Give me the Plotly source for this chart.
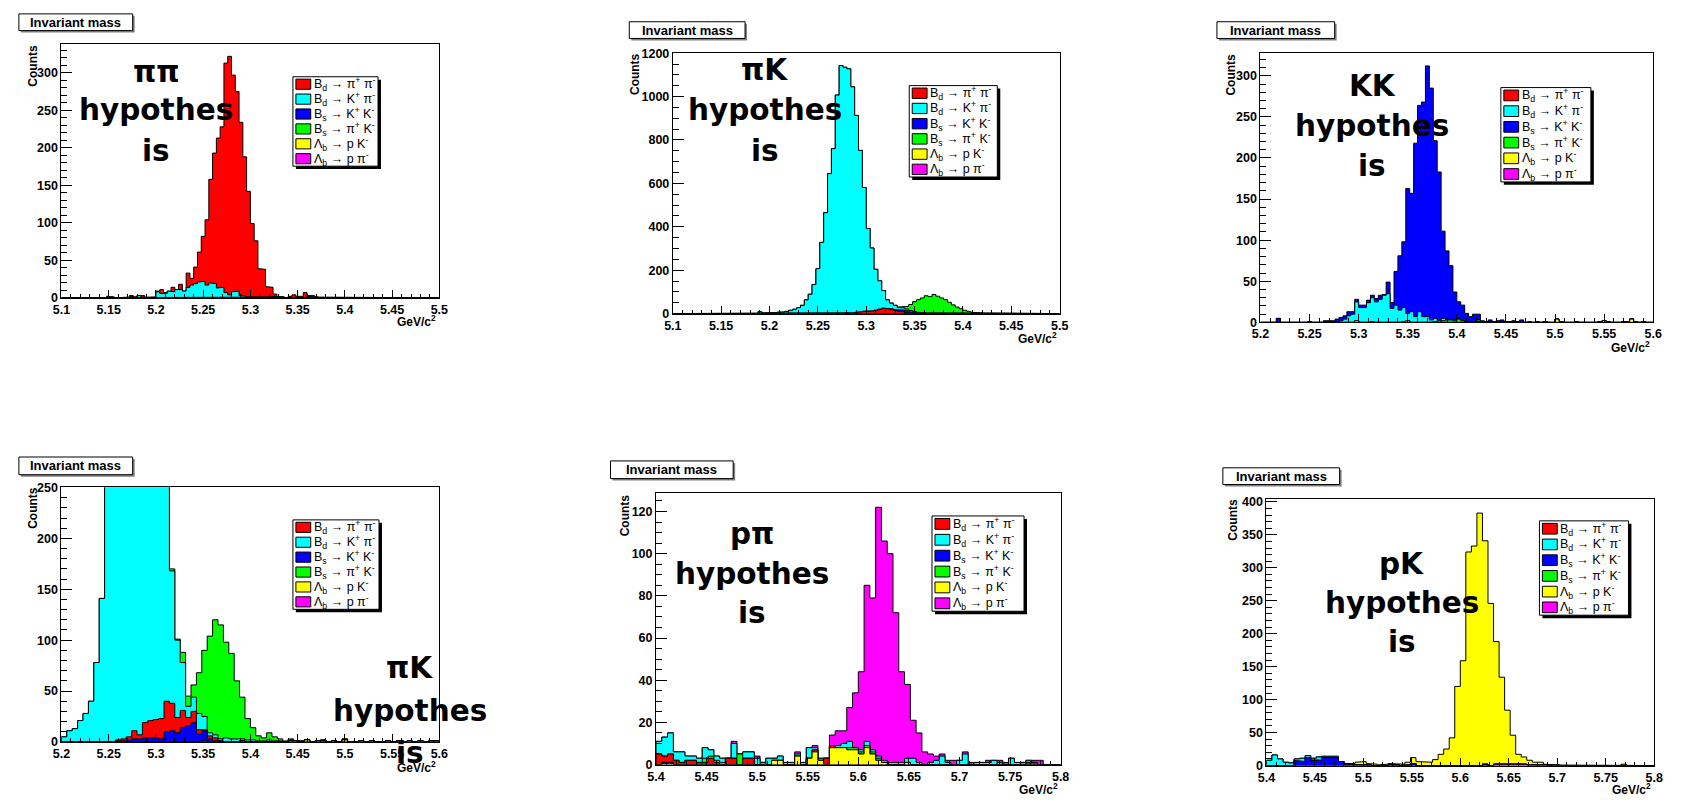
import numpy as np
import plotly.graph_objects as go

W, H = 1682, 802

# ---------------- data ----------------
SERIES_KEYS = ["bd_pipi", "bd_kpi", "bs_kk", "bs_pik", "lb_pk", "lb_ppi"]
SERIES_LABELS = [
    "B<sub>d</sub> → π<sup>+</sup> π<sup>-</sup>",
    "B<sub>d</sub> → K<sup>+</sup> π<sup>-</sup>",
    "B<sub>s</sub> → K<sup>+</sup> K<sup>-</sup>",
    "B<sub>s</sub> → π<sup>+</sup> K<sup>-</sup>",
    "Λ<sub>b</sub> → p K<sup>-</sup>",
    "Λ<sub>b</sub> → p π<sup>-</sup>",
]
HYPOTHESES = ["ππ", "πK", "KK", "πK", "pπ", "pK"]
TITLE = "Invariant mass"
Y_TITLE = "Counts"
X_TITLE = "GeV/c<sup>2</sup>"

# Panel 1 : pi pi hypothesis (100 bins, 5.1-5.5)
P1_RANGE = (5.1, 5.5)
P1_NBINS = 100
P1_YMAX = 338
P1_BD_PIPI_START = 17
P1_BD_PIPI = [1, 1, 0, 0, 2, 0, 0, 0, 1, 5, 1, 0, 6, 0, 7, 0, 19, 9, 22, 40,
              60, 87, 138, 174, 200, 214, 306, 318, 289, 266, 231, 186, 141, 98, 76, 39, 38, 14, 12, 3,
              1, 0, 0, 1, 4, 0, 1, 7, 1, 2]
P1_BD_KPI_START = 12
P1_BD_KPI = [2, 1, 0, 0, 0, 0, 2, 1, 3, 1, 0, 0, 1, 8, 6, 6, 9, 8, 10, 11,
             9, 14, 17, 19, 21, 22, 17, 20, 19, 13, 14, 7, 4, 7, 9, 3, 2, 1, 1]
P1_BS_KK_BINS = [30, 45]
P1_BS_KK = [1, 1]
P1_BS_PIK_START = 54
P1_BS_PIK = [1, 2, 2, 1, 1, 0, 1, 0, 2, 1, 0, 2, 1, 1]
P1_ORDER = ["lb_pk", "lb_ppi", "bs_kk", "bs_pik", "bd_kpi", "bd_pipi"]

# Panel 2 : pi K hypothesis (100 bins, 5.1-5.5)
P2_RANGE = (5.1, 5.5)
P2_NBINS = 100
P2_YMAX = 1200
P2_BD_KPI_START = 22
P2_BD_KPI = [8, 2, 4, 3, 4, 6, 7, 10, 15, 20, 27, 38, 63, 89, 134, 207, 328, 465, 645, 760,
             1007, 1143, 1133, 1128, 1042, 908, 744, 571, 380, 290, 189, 131, 81, 40, 26, 19, 12, 10, 8, 6,
             4, 3, 2, 1]
P2_BD_PIPI_START = 44
P2_BD_PIPI = [2, 0, 3, 5, 8, 10, 12, 12, 15, 20, 25, 22, 20, 15, 10, 8, 5, 2, 1]
P2_BS_KK_START = 55
P2_BS_KK = [1, 2, 4, 6, 8, 8, 6, 5, 3, 2, 1]
P2_BS_PIK_START = 58
P2_BS_PIK = [2, 6, 12, 28, 45, 58, 68, 80, 78, 88, 80, 72, 64, 52, 40, 30, 22, 15, 10, 6,
             4, 3, 2, 0, 1]
P2_ORDER = ["lb_ppi", "lb_pk", "bd_pipi", "bs_kk", "bd_kpi", "bs_pik"]

# Panel 3 : K K hypothesis (100 bins, 5.2-5.6)
P3_RANGE = (5.2, 5.6)
P3_NBINS = 100
P3_YMAX = 327.5
P3_BD_KPI_START = 19
P3_BD_KPI = [1, 2, 4, 8, 10, 23, 18, 18, 24, 29, 25, 28, 33, 35, 17, 21, 15, 17, 9, 13,
             7, 13, 7, 7, 3, 4, 2, 3, 1, 0, 1]
P3_BS_KK_START = 4
P3_BS_KK = [5, 0, 0, 0, 0, 0, 0, 0, 1, 0, 0, 0,
            2, 2, 2, 3, 4, 4, 5, 3, 3, 3, 3, 3, 3, 4, 5, 1, 14, 7, 41, 66,
            80, 152, 144, 211, 251, 261, 305, 282, 216, 181, 106, 83, 66, 34, 21, 19, 11, 7, 10, 7,
            2, 1, 2, 1, 1, 3, 1, 1, 2, 1, 3, 0, 1, 0, 1]
P3_LB_PK_BINS = [24, 28, 36, 37, 55, 75, 76, 87, 94, 95]
P3_LB_PK = [2, 1, 1, 2, 1, 4, 1, 2, 4, 1]
P3_BS_PIK_BINS = [44, 46, 47, 48, 49, 50, 51, 55, 58, 60]
P3_BS_PIK = [1, 2, 3, 3, 2, 4, 2, 2, 1, 1]
P3_LB_PPI_BINS = [72, 80, 86, 92, 97]
P3_LB_PPI = [1, 1, 1, 1, 1]
P3_BD_PIPI_BINS = [88, 93]
P3_BD_PIPI = [1, 1]
P3_ORDER = ["lb_ppi", "lb_pk", "bd_pipi", "bs_pik", "bd_kpi", "bs_kk"]

# Panel 4 : pi K hypothesis, zoomed (70 bins, 5.2-5.6)
P4_RANGE = (5.2, 5.6)
P4_NBINS = 70
P4_YMAX = 250
P4_BD_KPI_START = 0
P4_BD_KPI = [5, 11, 13, 21, 28, 40, 78, 141, 330, 650, 1040, 1380, 1540, 1430, 1140, 830, 580, 400, 310, 260,
             130, 76, 47, 11, 14, 16, 13, 3, 3, 2, 4, 3, 3, 2, 2, 2, 1, 1, 2, 1,
             1, 0, 1, 0, 1, 0, 0, 0, 1, 0, 0, 0, 1]
P4_BD_PIPI_START = 10
P4_BD_PIPI = [1, 2, 3, 8, 4, 15, 17, 18, 20, 30, 27, 15, 17, 8, 11, 4, 1, 3, 3]
P4_BS_KK_START = 10
P4_BS_KK = [1, 1, 2, 3, 3, 4, 4, 4, 3, 10, 11, 9, 14, 16, 19, 8, 10, 3, 1, 1]
P4_BS_PIK_START = 20
P4_BS_PIK = [2, 1, 10, 10, 12, 40, 65, 95, 113, 112, 94, 84, 57, 41, 21, 12, 5, 3, 7, 4, 2, 1, 1]
P4_LB_PK_BINS = [42, 43, 45, 48, 50, 52, 55, 60, 64, 68]
P4_LB_PK = [1, 1, 2, 1, 1, 2, 1, 1, 1, 1]
P4_LB_PPI_BINS = [26, 33, 47, 57, 62, 66, 69]
P4_LB_PPI = [1, 1, 1, 1, 1, 1, 1]
P4_ORDER = ["lb_ppi", "lb_pk", "bs_kk", "bd_pipi", "bd_kpi", "bs_pik"]

# Panel 5 : p pi hypothesis (70 bins, 5.4-5.8)
P5_RANGE = (5.4, 5.8)
P5_NBINS = 70
P5_YMAX = 128.6
P5_BS_KK_BINS = [1, 2]
P5_BS_KK = [1, 1]
P5_LB_PK_START = 20
P5_LB_PK = [2, 2, 0, 0, 4, 0, 3, 6, 2, 0, 8, 8, 8, 7, 7, 5, 8, 5, 2, 1, 0, 0, 0, 1]
P5_BD_PIPI_BINS = [0, 1, 2, 3, 4, 5, 6, 7, 8, 9, 10, 12, 13, 15, 16, 27, 29, 30, 64, 65]
P5_BD_PIPI = [5, 3, 4, 2, 1, 2, 2, 1, 1, 3, 1, 3, 3, 3, 3, 1, 3, 1, 1, 1]
P5_BS_PIK_BINS = [8, 9, 10, 11, 14, 18, 33, 34, 35, 36, 37, 38, 59, 63]
P5_BS_PIK = [2, 1, 1, 1, 5, 1, 1, 1, 1, 1, 1, 1, 1, 1]
P5_BD_KPI_START = 0
P5_BD_KPI = [6, 9, 10, 4, 5, 2, 2, 2, 5, 3, 2, 2, 0, 7, 0, 3, 3, 3, 0, 3,
             1, 2, 1, 1, 1, 1, 5, 1, 1, 0, 0, 1, 2, 3, 0, 1, 2, 1, 1, 1,
             1, 1, 1, 2, 3, 1, 0, 1, 2, 4, 1, 0, 2, 5, 0, 1, 1, 1, 2, 0,
             0, 3, 1, 0, 1]
P5_LB_PPI_START = 13
P5_LB_PPI = [1, 0, 0, 0, 1, 0, 0, 0, 0, 0, 0, 1, 0, 0, 1, 0, 0,
             5, 7, 6, 16, 26, 37, 74, 72, 118, 104, 99, 71, 43, 35, 18, 14, 6, 4, 2, 1,
             1, 2, 0, 1, 1, 0, 0, 1, 0, 1, 1, 0, 0, 0, 0, 1, 2]
P5_ORDER = ["bs_kk", "lb_pk", "bd_pipi", "bs_pik", "bd_kpi", "lb_ppi"]

# Panel 6 : p K hypothesis (70 bins, 5.4-5.8)
P6_RANGE = (5.4, 5.8)
P6_NBINS = 70
P6_YMAX = 404
P6_BD_KPI_START = 0
P6_BD_KPI = [8, 16, 10, 5, 4, 3, 5, 3, 3, 5, 2, 3, 2]
P6_BS_KK_BINS = [5, 6, 7, 8, 9, 10, 11, 12, 13, 14, 15, 16, 17, 18, 22, 23, 25, 26, 31, 32, 39, 48, 49, 50]
P6_BS_KK = [7, 6, 12, 8, 8, 12, 11, 12, 6, 2, 1, 2, 2, 1, 2, 1, 1, 3, 1, 1, 2, 1, 2, 1]
P6_LB_PK_START = 14
P6_LB_PK = [1, 2, 3, 4, 2, 2, 1, 2, 1, 2, 2, 4, 9, 6, 6, 5, 9, 16, 24, 42,
            120, 159, 324, 333, 383, 339, 246, 186, 131, 81, 43, 15, 11, 7, 4, 3, 1, 2, 1, 0,
            0, 0, 0, 0, 0, 0, 0, 0, 0, 0, 2]
P6_LB_PPI_START = 41
P6_LB_PPI = [2, 3, 3, 3, 2, 2, 1]
P6_ORDER = ["lb_ppi", "bs_kk", "bd_pipi", "bs_pik", "bd_kpi", "lb_pk"]


def dense(n, start, vals):
    a = np.zeros(n)
    a[start:start + len(vals)] = vals
    return a


def sparse(n, bins, counts):
    a = np.zeros(n)
    for b, c in zip(bins, counts):
        a[b] += c
    return a


def empty(n):
    return np.zeros(n)


n = P1_NBINS
P1 = dict(bd_pipi=dense(n, P1_BD_PIPI_START, P1_BD_PIPI), bd_kpi=dense(n, P1_BD_KPI_START, P1_BD_KPI),
          bs_kk=sparse(n, P1_BS_KK_BINS, P1_BS_KK), bs_pik=dense(n, P1_BS_PIK_START, P1_BS_PIK),
          lb_pk=empty(n), lb_ppi=empty(n))
n = P2_NBINS
P2 = dict(bd_pipi=dense(n, P2_BD_PIPI_START, P2_BD_PIPI), bd_kpi=dense(n, P2_BD_KPI_START, P2_BD_KPI),
          bs_kk=dense(n, P2_BS_KK_START, P2_BS_KK), bs_pik=dense(n, P2_BS_PIK_START, P2_BS_PIK),
          lb_pk=empty(n), lb_ppi=empty(n))
n = P3_NBINS
P3 = dict(bd_pipi=sparse(n, P3_BD_PIPI_BINS, P3_BD_PIPI), bd_kpi=dense(n, P3_BD_KPI_START, P3_BD_KPI),
          bs_kk=dense(n, P3_BS_KK_START, P3_BS_KK), bs_pik=sparse(n, P3_BS_PIK_BINS, P3_BS_PIK),
          lb_pk=sparse(n, P3_LB_PK_BINS, P3_LB_PK), lb_ppi=sparse(n, P3_LB_PPI_BINS, P3_LB_PPI))
n = P4_NBINS
P4 = dict(bd_pipi=dense(n, P4_BD_PIPI_START, P4_BD_PIPI), bd_kpi=dense(n, P4_BD_KPI_START, P4_BD_KPI),
          bs_kk=dense(n, P4_BS_KK_START, P4_BS_KK), bs_pik=dense(n, P4_BS_PIK_START, P4_BS_PIK),
          lb_pk=sparse(n, P4_LB_PK_BINS, P4_LB_PK), lb_ppi=sparse(n, P4_LB_PPI_BINS, P4_LB_PPI))
n = P5_NBINS
P5 = dict(bd_pipi=sparse(n, P5_BD_PIPI_BINS, P5_BD_PIPI), bd_kpi=dense(n, P5_BD_KPI_START, P5_BD_KPI),
          bs_kk=sparse(n, P5_BS_KK_BINS, P5_BS_KK), bs_pik=sparse(n, P5_BS_PIK_BINS, P5_BS_PIK),
          lb_pk=dense(n, P5_LB_PK_START, P5_LB_PK), lb_ppi=dense(n, P5_LB_PPI_START, P5_LB_PPI))
n = P6_NBINS
P6 = dict(bd_pipi=empty(n), bd_kpi=dense(n, P6_BD_KPI_START, P6_BD_KPI),
          bs_kk=sparse(n, P6_BS_KK_BINS, P6_BS_KK), bs_pik=empty(n),
          lb_pk=dense(n, P6_LB_PK_START, P6_LB_PK), lb_ppi=dense(n, P6_LB_PPI_START, P6_LB_PPI))

# ---------------- styles / layout geometry (pixels) ----------------
COLORS = dict(bd_pipi="#ff0000", bd_kpi="#00ffff", bs_kk="#0000ff",
              bs_pik="#00ff00", lb_pk="#ffff00", lb_ppi="#ff00ff")

PANELS = [
    dict(data=P1, rng=P1_RANGE, nb=P1_NBINS, ymax=P1_YMAX, order=P1_ORDER, ydt=50, ymn=10,
         plot=(53, 38, 435, 296), title=(10, 7, 125, 24), legend=(287, 71, 373, 162),
         counts=(24, 60), gev=(434, 320), hyp=(149, (66, 105, 147))),
    dict(data=P2, rng=P2_RANGE, nb=P2_NBINS, ymax=P2_YMAX, order=P2_ORDER, ydt=200, ymn=50,
         plot=(671, 47, 1062, 312), title=(627, 15, 744, 32), legend=(910, 80, 999, 173),
         counts=(633, 68), gev=(1061, 337), hyp=(764, (64, 105, 147))),
    dict(data=P3, rng=P3_RANGE, nb=P3_NBINS, ymax=P3_YMAX, order=P3_ORDER, ydt=50, ymn=10,
         plot=(1265, 47, 1662, 321), title=(1221, 15, 1340, 32), legend=(1508, 82, 1599, 178),
         counts=(1235, 69), gev=(1661, 346), hyp=(1378, (80, 121, 162))),
    dict(data=P4, rng=P4_RANGE, nb=P4_NBINS, ymax=P4_YMAX, order=P4_ORDER, ydt=50, ymn=10,
         plot=(53, 489, 435, 748), title=(10, 458, 125, 476), legend=(287, 522, 374, 613),
         counts=(24, 510), gev=(434, 773), hyp=(405, (673, 716, 759))),
    dict(data=P5, rng=P5_RANGE, nb=P5_NBINS, ymax=P5_YMAX, order=P5_ORDER, ydt=20, ymn=5,
         plot=(654, 495, 1063, 771), title=(608, 462, 732, 480), legend=(933, 518, 1026, 615),
         counts=(623, 517), gev=(1062, 796), hyp=(751, (536, 577, 617))),
    dict(data=P6, rng=P6_RANGE, nb=P6_NBINS, ymax=P6_YMAX, order=P6_ORDER, ydt=50, ymn=10,
         plot=(1271, 501, 1663, 772), title=(1227, 469, 1345, 486), legend=(1547, 523, 1637, 619),
         counts=(1237, 522), gev=(1662, 796), hyp=(1408, (567, 607, 646))),
]

TICK_FONT = dict(family="Liberation Sans, Arial, sans-serif", size=12.5, color="black", weight="bold")
LABEL_FONT = dict(family="Liberation Sans, Arial, sans-serif", size=12, color="black", weight="bold")
LEG_FONT = dict(family="Liberation Sans, Arial, sans-serif", size=12.5, color="black")
BIG_FONT = dict(family="DejaVu Sans, sans-serif", size=29.5, color="black", weight="bold")


def px(x):
    return x / W


def py(y):
    return 1 - y / H


fig = go.Figure()
shapes = []
annotations = []
layout_axes = {}

for k, p in enumerate(PANELS, start=1):
    sfx = "" if k == 1 else str(k)
    xa, ya = "x" + sfx, "y" + sfx
    lo, hi = p["rng"]
    edges = np.linspace(lo, hi, p["nb"] + 1)

    # stacked cumulative sums, bottom -> top
    cum = np.zeros(p["nb"])
    cums = []
    for key in p["order"]:
        cum = cum + p["data"][key]
        cums.append((key, cum.copy()))
    # draw topmost first, lower layers in front
    for key, c in reversed(cums):
        xs = np.repeat(edges, 2)
        ys = np.concatenate([[0.0], np.repeat(c, 2), [0.0]])
        fig.add_trace(go.Scatter(
            x=xs, y=ys, mode="lines", xaxis=xa, yaxis=ya,
            line=dict(color="black", width=1), fill="tozeroy",
            fillcolor=COLORS[key], hoverinfo="skip", showlegend=False))

    L, T, R, B = p["plot"]
    eps = 1e-9
    layout_axes["xaxis" + sfx] = dict(
        domain=[px(L), px(R)], anchor=ya, range=[lo - eps, hi + eps],
        tick0=lo, dtick=0.05, tickformat=".2~f", ticks="inside", ticklen=8, tickwidth=1,
        tickcolor="black", minor=dict(dtick=0.01, ticks="inside", ticklen=4, tickcolor="black"),
        showline=True, linecolor="black", linewidth=1, mirror=True,
        showgrid=False, zeroline=False, tickfont=TICK_FONT, fixedrange=True)
    layout_axes["yaxis" + sfx] = dict(
        domain=[py(B), py(T)], anchor=xa, range=[0, p["ymax"] + eps],
        tick0=0, dtick=p["ydt"], ticks="inside", ticklen=11, tickwidth=1, tickcolor="black",
        minor=dict(dtick=p["ymn"], ticks="inside", ticklen=6, tickcolor="black"),
        showline=True, linecolor="black", linewidth=1, mirror=True,
        showgrid=False, zeroline=False, tickfont=TICK_FONT, fixedrange=True)

    # title box with shadow
    tx0, ty0, tx1, ty1 = p["title"]
    shapes.append(dict(type="rect", xref="paper", yref="paper", x0=px(tx0 + 2), x1=px(tx1 + 2),
                       y0=py(ty1 + 2), y1=py(ty0 + 2), fillcolor="#808080", line=dict(width=0)))
    shapes.append(dict(type="rect", xref="paper", yref="paper", x0=px(tx0), x1=px(tx1),
                       y0=py(ty1), y1=py(ty0), fillcolor="white", line=dict(color="black", width=1)))
    annotations.append(dict(text=TITLE, x=px((tx0 + tx1) / 2), y=py((ty0 + ty1) / 2), xref="paper", yref="paper",
                            xanchor="center", yanchor="middle", showarrow=False,
                            font=dict(family="Liberation Sans, Arial, sans-serif", size=13, color="black",
                                      weight="bold")))

    # legend box with shadow
    lx0, ly0, lx1, ly1 = p["legend"]
    shapes.append(dict(type="rect", xref="paper", yref="paper", x0=px(lx0 + 3), x1=px(lx1 + 3),
                       y0=py(ly1 + 3), y1=py(ly0 + 3), fillcolor="black", line=dict(width=0)))
    shapes.append(dict(type="rect", xref="paper", yref="paper", x0=px(lx0), x1=px(lx1),
                       y0=py(ly1), y1=py(ly0), fillcolor="white", line=dict(color="black", width=1)))
    rowh = (ly1 - ly0) / 6.0
    for r, (key, lab) in enumerate(zip(SERIES_KEYS, SERIES_LABELS)):
        cy = ly0 + (r + 0.5) * rowh
        sh = rowh * 0.68
        shapes.append(dict(type="rect", xref="paper", yref="paper", x0=px(lx0 + 3), x1=px(lx0 + 18),
                           y0=py(cy + sh / 2), y1=py(cy - sh / 2), fillcolor=COLORS[key],
                           line=dict(color="black", width=1)))
        annotations.append(dict(text=lab, x=px(lx0 + 19), y=py(cy), xref="paper", yref="paper",
                                xanchor="left", yanchor="middle", showarrow=False, font=LEG_FONT))

    # axis titles
    cx, cy = p["counts"]
    annotations.append(dict(text=Y_TITLE, x=px(cx), y=py(cy), xref="paper", yref="paper", textangle=-90,
                            xanchor="center", yanchor="middle", showarrow=False, font=LABEL_FONT))
    gx, gy = p["gev"]
    annotations.append(dict(text=X_TITLE, x=px(gx), y=py(gy), xref="paper", yref="paper",
                            xanchor="right", yanchor="middle", showarrow=False, font=LABEL_FONT))

    # big hypothesis text
    hx, hys = p["hyp"]
    for txt, hy in zip([HYPOTHESES[k - 1], "hypothes", "is"], hys):
        annotations.append(dict(text=txt, x=px(hx), y=py(hy), xref="paper", yref="paper",
                                xanchor="center", yanchor="middle", showarrow=False, font=BIG_FONT))

fig.update_layout(
    width=W, height=H, margin=dict(l=0, r=0, t=0, b=0),
    paper_bgcolor="white", plot_bgcolor="white", showlegend=False,
    shapes=shapes, annotations=annotations, **layout_axes)

fig.write_html("out.html")
